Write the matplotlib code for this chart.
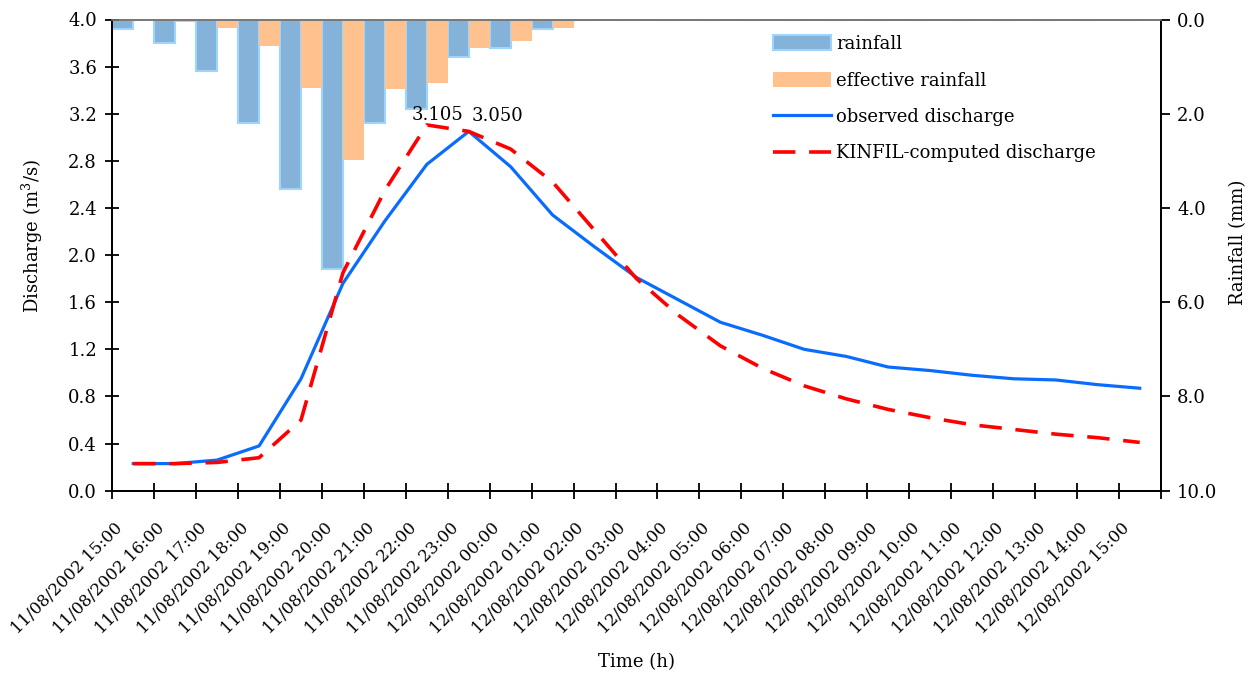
import matplotlib
matplotlib.use("Agg")
import matplotlib.pyplot as plt
import matplotlib.transforms as mtransforms
from matplotlib.patches import Patch
from matplotlib.lines import Line2D
import numpy as np

plt.rcParams['font.family'] = ['DejaVu Serif']
plt.rcParams['mathtext.fontset'] = 'dejavuserif'

# hourly time steps, 11/08/2002 15:00 -> 12/08/2002 15:00
times = ['11/08/2002 15:00', '11/08/2002 16:00', '11/08/2002 17:00', '11/08/2002 18:00',
         '11/08/2002 19:00', '11/08/2002 20:00', '11/08/2002 21:00', '11/08/2002 22:00',
         '11/08/2002 23:00', '12/08/2002 00:00', '12/08/2002 01:00', '12/08/2002 02:00',
         '12/08/2002 03:00', '12/08/2002 04:00', '12/08/2002 05:00', '12/08/2002 06:00',
         '12/08/2002 07:00', '12/08/2002 08:00', '12/08/2002 09:00', '12/08/2002 10:00',
         '12/08/2002 11:00', '12/08/2002 12:00', '12/08/2002 13:00', '12/08/2002 14:00',
         '12/08/2002 15:00']

# rainfall and effective rainfall (mm)
rain = [0.2, 0.5, 1.1, 2.2, 3.6, 5.3, 2.2, 1.9, 0.8, 0.6, 0.2,
        0, 0, 0, 0, 0, 0, 0, 0, 0, 0, 0, 0, 0, 0]
rain_eff = [0.0, 0.05, 0.17, 0.57, 1.46, 2.98, 1.47, 1.35, 0.61, 0.46, 0.19,
            0, 0, 0, 0, 0, 0, 0, 0, 0, 0, 0, 0, 0, 0]

# discharge (m3/s)
q_obs = [0.23, 0.23, 0.26, 0.38, 0.95, 1.76, 2.29, 2.77, 3.050, 2.75, 2.34, 2.07, 1.81,
         1.62, 1.43, 1.32, 1.20, 1.14, 1.05, 1.02, 0.98, 0.95, 0.94, 0.90, 0.87]
q_kinfil = [0.23, 0.23, 0.24, 0.28, 0.60, 1.85, 2.55, 3.105, 3.05, 2.90, 2.62, 2.21, 1.80,
            1.49, 1.23, 1.04, 0.89, 0.78, 0.69, 0.62, 0.56, 0.52, 0.48, 0.45, 0.41]

x = np.arange(len(times))
W, H = 1260, 673
fs = 13

fig = plt.figure(figsize=(W/100, H/100), dpi=100)
ax = fig.add_axes([112.3/W, (H-490.7)/H, (1160.7-112.3)/W, (490.7-19.5)/H])
ax2 = ax.twinx()

# rainfall bars hang from the top on the right axis
b1 = ax2.bar(x - 0.25, rain, width=0.5, color='#85B2D9', edgecolor='#9DD5FF', linewidth=1.5)
b2 = ax2.bar(x + 0.25, rain_eff, width=0.5, color='#FFC28F', edgecolor='none')
ax2.set_ylim(10, 0)
ax2.set_yticks(np.arange(0, 10.1, 2))
ax2.set_yticklabels(['%.1f' % v for v in np.arange(0, 10.1, 2)], fontsize=fs)
ax2.tick_params(axis='y', direction='out', length=6.5, width=1.3, pad=5.4)

# discharge lines
ax.set_zorder(ax2.get_zorder() + 1)
ax.patch.set_visible(False)
l1, = ax.plot(x, q_obs, color='#0A6CFF', lw=2.3, solid_joinstyle='round')
l2, = ax.plot(x, q_kinfil, color='#FF0000', lw=2.6, dashes=(6.2, 3.8))

ax.annotate('3.105', (x[7], q_kinfil[7]), xytext=(8, 7), textcoords='offset points',
            ha='center', va='center', fontsize=fs)
ax.annotate('3.050', (x[8], q_obs[8]), xytext=(21, 11), textcoords='offset points',
            ha='center', va='center', fontsize=fs)

ax.set_xlim(-0.5, len(times) - 0.5)
ax.set_ylim(0, 4.0)
ax.set_yticks(np.arange(0, 4.01, 0.4))
ax.set_yticklabels(['%.1f' % v for v in np.arange(0, 4.01, 0.4)], fontsize=fs)
ax.tick_params(axis='y', direction='inout', length=10, width=1.3, pad=6)

# category boundaries get the tick marks, centres get the labels
ax.set_xticks(np.arange(-0.5, len(times), 1))
ax.set_xticklabels([])
ax.tick_params(axis='x', which='major', direction='inout', length=11, width=1.3)
ax.set_xticks(x, minor=True)
ax.set_xticklabels(times, minor=True, rotation=45, ha='right', va='center',
                   rotation_mode='anchor', fontsize=12)
ax.tick_params(axis='x', which='minor', length=0, pad=0)
shift = mtransforms.ScaledTranslation(-0.13, -0.35, fig.dpi_scale_trans)
for lab in ax.get_xticklabels(minor=True):
    lab.set_transform(lab.get_transform() + shift)

for a in (ax, ax2):
    a.spines['top'].set_color('#777777')
    a.spines['top'].set_linewidth(1.2)
    for s in ('left', 'right', 'bottom'):
        a.spines[s].set_linewidth(1.3)
        a.spines[s].set_color('black')

fig.text(32/W, 1 - 236/H, 'Discharge (m$^3$/s)', rotation=90, ha='center', va='center', fontsize=fs)
fig.text(1238/W, 1 - 242/H, 'Rainfall (mm)', rotation=90, ha='center', va='center', fontsize=fs)
fig.text(637/W, 1 - 662/H, 'Time (h)', ha='center', va='center', fontsize=fs)

handles = [Patch(facecolor='#85B2D9', edgecolor='#9DD5FF', linewidth=1.5),
           Patch(facecolor='#FFC28F', edgecolor='none'),
           Line2D([], [], color='#0A6CFF', lw=2.3),
           Line2D([], [], color='#FF0000', lw=2.6, dashes=(6.2, 3.8))]
labels = ['rainfall', 'effective rainfall', 'observed discharge', 'KINFIL-computed discharge']
ax.legend(handles, labels, loc='upper left', bbox_to_anchor=(766/W, 1 - 28/H),
          bbox_transform=fig.transFigure, frameon=False, fontsize=fs,
          handlelength=3.2, handleheight=0.9, handletextpad=0.3, labelspacing=1.02,
          borderaxespad=0)

fig.savefig('out.png', dpi=100)
